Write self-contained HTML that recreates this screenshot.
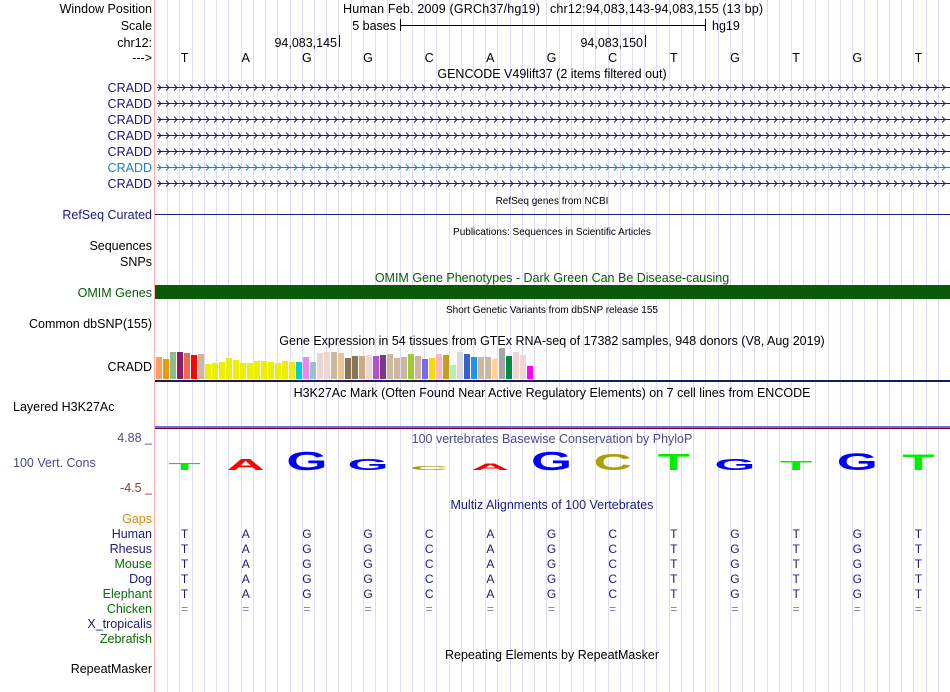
<!DOCTYPE html>
<html><head><meta charset="utf-8"><style>
html,body{margin:0;padding:0;background:#fff;width:950px;height:692px;overflow:hidden}
svg{display:block;font-family:"Liberation Sans",sans-serif}
</style></head><body>
<svg id="main" width="950" height="692" viewBox="0 0 950 692">
<g id="grid"></g>
<line x1="154.5" y1="0" x2="154.5" y2="692" stroke="#ffb0b0" stroke-width="1"/>
<g font-size="12.5" text-anchor="end">
<text x="152" y="13">Window Position</text>
<text x="152" y="30">Scale</text>
<text x="152" y="47">chr12:</text>
<text x="152" y="62">---&gt;</text>
<g fill="#1a1a80">
<text x="152" y="92">CRADD</text>
<text x="152" y="108">CRADD</text>
<text x="152" y="124">CRADD</text>
<text x="152" y="140">CRADD</text>
<text x="152" y="156">CRADD</text>
<text x="152" y="172" fill="#1f7fbf">CRADD</text>
<text x="152" y="188">CRADD</text>
<text x="152" y="219">RefSeq Curated</text>
</g>
<text x="152" y="250">Sequences</text>
<text x="152" y="266">SNPs</text>
<text x="152" y="297" fill="#0a5a0a">OMIM Genes</text>
<text x="152" y="328">Common dbSNP(155)</text>
<text x="152" y="371">CRADD</text>
<text x="13" y="411" text-anchor="start">Layered H3K27Ac</text>
<text x="152" y="442" fill="#4a4a90">4.88 _</text>
<text x="13" y="467" text-anchor="start" fill="#4a4a90">100 Vert. Cons</text>
<text x="152" y="492" fill="#8b3a3a">-4.5 _</text>
<text x="152" y="523" fill="#e08a00">Gaps</text>
<text x="152" y="538" fill="#1a1a80">Human</text>
<text x="152" y="553" fill="#1a1a80">Rhesus</text>
<text x="152" y="568" fill="#0a6a0a">Mouse</text>
<text x="152" y="583" fill="#1a1a80">Dog</text>
<text x="152" y="598" fill="#0a6a0a">Elephant</text>
<text x="152" y="613" fill="#0a6a0a">Chicken</text>
<text x="152" y="628" fill="#1a1a80">X_tropicalis</text>
<text x="152" y="643" fill="#0a6a0a">Zebrafish</text>
<text x="152" y="673">RepeatMasker</text>
</g>
<g font-size="12.5" text-anchor="middle">
<text x="343" y="13" text-anchor="start" textLength="197">Human Feb. 2009 (GRCh37/hg19)</text>
<text x="550" y="13" text-anchor="start" textLength="213">chr12:94,083,143-94,083,155 (13 bp)</text>
<text x="396" y="30" text-anchor="end">5 bases</text>
<line x1="400.5" y1="19" x2="400.5" y2="31" stroke="#000"/><line x1="400" y1="25.5" x2="706" y2="25.5" stroke="#000"/><line x1="705.5" y1="19" x2="705.5" y2="31" stroke="#000"/>
<text x="712" y="30" text-anchor="start">hg19</text>
<text x="337" y="47" text-anchor="end">94,083,145</text>
<line x1="339.5" y1="35" x2="339.5" y2="47" stroke="#000"/>
<text x="643" y="47" text-anchor="end">94,083,150</text>
<line x1="645.5" y1="35" x2="645.5" y2="47" stroke="#000"/>
<text x="552" y="78">GENCODE V49lift37 (2 items filtered out)</text>
<text x="552" y="204" font-size="10">RefSeq genes from NCBI</text>
<text x="552" y="235" font-size="10">Publications: Sequences in Scientific Articles</text>
<text x="552" y="282" fill="#0a5a0a">OMIM Gene Phenotypes - Dark Green Can Be Disease-causing</text>
<text x="552" y="313" font-size="10">Short Genetic Variants from dbSNP release 155</text>
<text x="552" y="345">Gene Expression in 54 tissues from GTEx RNA-seq of 17382 samples, 948 donors (V8, Aug 2019)</text>
<text x="552" y="397">H3K27Ac Mark (Often Found Near Active Regulatory Elements) on 7 cell lines from ENCODE</text>
<text x="552" y="443" fill="#4a4a90">100 vertebrates Basewise Conservation by PhyloP</text>
<text x="552" y="509" fill="#1a1a80">Multiz Alignments of 100 Vertebrates</text>
<text x="552" y="659">Repeating Elements by RepeatMasker</text>
</g>
<line x1="155" y1="214.5" x2="950" y2="214.5" stroke="#1a1a80"/>
<rect x="155" y="285" width="795" height="14" fill="#0a5a0a"/>
<rect x="155" y="380" width="795" height="2" fill="#1a1a60"/>
<rect x="155" y="426" width="795" height="2" fill="#7070e0"/>
<rect x="155" y="428" width="795" height="1" fill="#700020"/>
<g id="bases" font-size="12.5" text-anchor="middle"></g>
<g id="genes"></g>
<g id="gtex"></g>
<g id="logo"></g>
<g id="multiz" font-size="12" text-anchor="middle"></g>
</svg>
<script>
const seq = ["T","A","G","G","C","A","G","C","T","G","T","G","T"];
const logoHeights = [8,12,20,12,4,7,20,18,18,12,10,19,17];
const gtexHeights = [22,20,27,27,26,24,25,15,16,17,21,19,16,16,18,18,17,16,18,17,17,22,17,26,27,27,26,21,23,23,24,23,24,25,21,22,25,23,20,21,25,24,14,27,25,22,22,22,20,31,23,27,24,13];
const gtexColors = ["#f4a460","#ee9a00","#8fbc8f","#8b1c62","#ee6a50","#ff0000","#cdb79e","#eeee00","#eeee00","#eeee00","#eeee00","#eeee00","#eeee00","#eeee00","#eeee00","#eeee00","#eeee00","#eeee00","#eeee00","#eeee00","#00cdcd","#ee82ee","#9ac0cd","#eed5d2","#eed5d2","#cdb79e","#eec591","#8b7355","#8b7355","#cdaa7d","#eed5d2","#b452cd","#7a378b","#cdb79e","#cdb79e","#cdb79e","#9acd32","#cdb79e","#7b68ee","#ffd700","#ffb6c1","#cd9b1d","#b4eeb4","#d9d9d9","#3a5fcd","#1e90ff","#cdb79e","#cdb79e","#ffd39b","#a6a6a6","#008b45","#eed5d2","#eed5d2","#ff00ff"];
const species = [["Human",1],["Rhesus",1],["Mouse",1],["Dog",1],["Elephant",1],["Chicken",0]];
const NS="http://www.w3.org/2000/svg";
const X0=155, W=795, bw=W/seq.length;
const xBase=i=>X0+bw*(i+0.5)-1;
function mk(t,a,p){const e=document.createElementNS(NS,t);for(const k in a)e.setAttribute(k,a[k]);p.appendChild(e);return e;}
const grid=document.getElementById('grid');
for(let i=1;i<seq.length*5;i++){const x=Math.round(X0+i*W/65)+0.5;
const l=mk('line',{x1:x,y1:0,x2:x,y2:692,stroke:'#dcdcf8'},grid);

}
const bases=document.getElementById('bases');
seq.forEach((b,i)=>{const t=mk('text',{x:xBase(i),y:62},bases);t.textContent=b;

});
const genes=document.getElementById('genes');
for(let r=0;r<7;r++){const y=87+r*16+0.5;const c=r==5?'#1f7fbf':'#1a1a80';
const g=mk('g',{},genes);


mk('line',{x1:157,y1:y,x2:950,y2:y,stroke:c},g);
let d='';for(let x=158;x<948;x+=8)d+=`M${x},${y-3}L${x+3},${y}L${x},${y+3}`;
mk('path',{d:d,stroke:c,fill:'none','stroke-width':1},g);}
const gtex=document.getElementById('gtex');const base=379, gw=7;
gtexHeights.forEach((h,i)=>{const r=mk('rect',{x:156+i*gw,y:base-h,width:gw-1,height:h,fill:gtexColors[i]},gtex);

});
const logo=document.getElementById('logo');
const lc={A:'#ff0000',C:'#aaa000',G:'#0000ff',T:'#00ee00'};
seq.forEach((b,i)=>{const h=logoHeights[i];const sy=h/12.5;const sx=3.3;
const t=mk('text',{x:0,y:0,'font-size':16,'font-weight':'bold','text-anchor':'middle',fill:lc[b],transform:`translate(${xBase(i)},470) scale(${sx},${sy})`},logo);t.textContent=b;

});
const mz=document.getElementById('multiz');
species.forEach((s,r)=>{const y=538+r*15;seq.forEach((b,i)=>{const t=mk('text',{x:xBase(i),y:y,fill:s[1]?'#1a1a80':'#7a7ab0'},mz);t.textContent=s[1]?b:'=';

});});
</script>
</body></html>
